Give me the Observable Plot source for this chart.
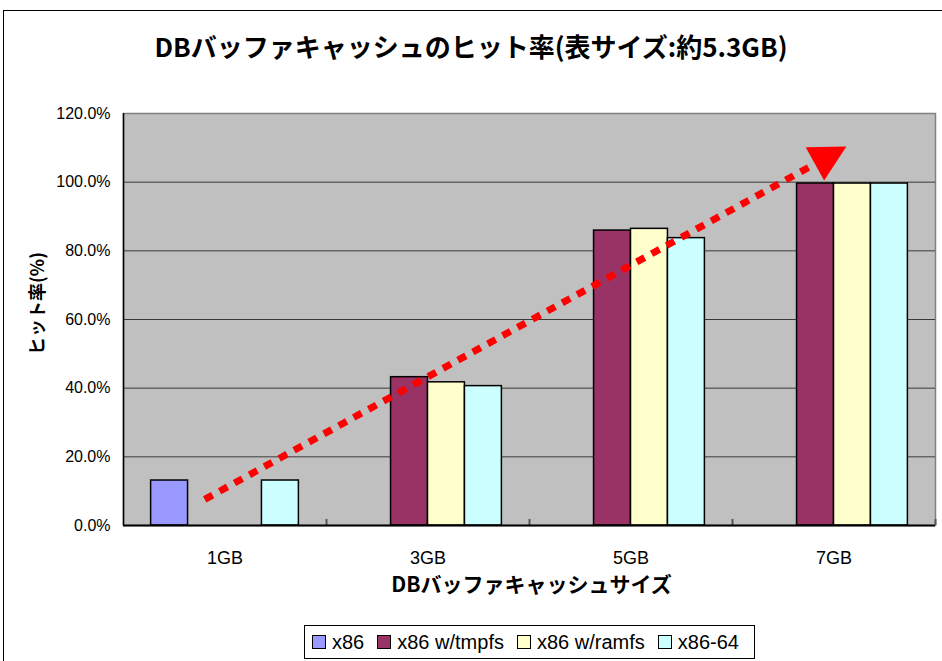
<!DOCTYPE html>
<html>
<head>
<meta charset="utf-8">
<script src="https://cdn.jsdelivr.net/npm/d3@7"></script>
<script src="https://cdn.jsdelivr.net/npm/@observablehq/plot@0.6"></script>
<style>
  html, body { margin: 0; padding: 0; background: #fff; overflow: hidden; }
  #page { position: relative; width: 942px; height: 661px; overflow: hidden; }
  #frame { position: absolute; left: 3px; top: 10px; width: 960px; height: 700px; border: 1.5px solid #000; box-sizing: border-box; }
  #title { position: absolute; left: 0; width: 942px; top: 26px; text-align: center;
           font-family: "Noto Sans CJK JP"; font-weight: bold; font-size: 26px; line-height: 40px; color: #000; }
  #chart { position: absolute; left: 0; top: 80px; }
  #legend { position: absolute; left: 304px; top: 625px; width: 451px; height: 34px; border: 1px solid #000; box-sizing: border-box;
            display: flex; align-items: center; padding-left: 7px; font-family: "Liberation Sans"; font-size: 20px; color: #000; background: #fff; }
  #legend .item { display: flex; align-items: center; margin-right: 13px; white-space: pre; }
  #legend .sw { width: 12px; height: 12px; border: 1px solid #000; margin-right: 6px; }
</style>
</head>
<body>
<div id="page">
  <div id="frame"></div>
  <div id="title"></div>
  <div id="chart"></div>
  <div id="legend"></div>
</div>
<script>
// ---- data ----
const titleText = "DBバッファキャッシュのヒット率(表サイズ:約5.3GB)";
const xTitle = "DBバッファキャッシュサイズ";
const yTitle = "ヒット率(%)";
const categories = ["1GB", "3GB", "5GB", "7GB"];
const seriesNames = ["x86", "x86 w/tmpfs", "x86 w/ramfs", "x86-64"];
const seriesColors = ["#9999FF", "#993366", "#FFFFCC", "#CCFFFF"];
const hitX86   = [13.1, null, null, null];
const hitTmpfs = [null, 43.2, 85.9, 99.6];
const hitRamfs = [null, 41.7, 86.4, 99.6];
const hitX8664 = [13.1, 40.6, 83.7, 99.6];
const yTicks = [0, 20, 40, 60, 80, 100, 120];
// trend arrow (category-index units, percent)
const trendStart = {cat: 0.40, value: 7.6};
const trendHead  = {cat: 3.406, value: 105.3};

// ---- build ----
document.getElementById("title").textContent = titleText;
const seriesValues = [hitX86, hitTmpfs, hitRamfs, hitX8664];
const rows = [];
seriesValues.forEach((vals, j) => vals.forEach((v, i) => {
  if (v != null) rows.push({i, j, category: categories[i], series: seriesNames[j], value: v});
}));
const barW = 0.182;
const pad = (1 - seriesNames.length * barW) / 2;

const chart = Plot.plot({
  width: 942,
  height: 530,
  marginLeft: 123,
  marginRight: 7,
  marginTop: 33,
  marginBottom: 85,
  style: {fontFamily: "Liberation Sans", fontSize: "16px", color: "#000", background: "transparent", overflow: "visible"},
  x: {domain: [0, categories.length]},
  y: {domain: [0, 120]},
  color: {domain: seriesNames, range: seriesColors},
  marks: [
    Plot.frame({fill: "#C0C0C0", stroke: "#808080", strokeWidth: 1.5}),
    Plot.ruleY(yTicks.filter(t => t > 0 && t < 120), {stroke: "#3a3a3a", strokeWidth: 1}),
    Plot.rectY(rows, {
      x1: d => d.i + pad + d.j * barW,
      x2: d => d.i + pad + (d.j + 1) * barW,
      y1: 0, y2: "value",
      fill: "series", stroke: "#000", strokeWidth: 1.5
    }),
    Plot.ruleX(d3.range(1, categories.length + 1), {y1: 0, y2: 0, insetTop: -6, stroke: "#555", strokeWidth: 2}),
    Plot.ruleY([0], {stroke: "#000", strokeWidth: 2}),
    Plot.ruleX([0], {stroke: "#000", strokeWidth: 1.5}),
    Plot.link([{}], {
      x1: () => trendStart.cat, y1: () => trendStart.value,
      x2: () => trendHead.cat, y2: () => trendHead.value,
      stroke: "#FF0000", strokeWidth: 7, strokeDasharray: "9,8"
    }),
    Plot.vector([trendHead], {x: "cat", y: "value", shape: "spike", anchor: "start", length: 36, r: 19, rotate: 61,
      fill: "#FF0000", stroke: "none"}),
    Plot.axisY({ticks: yTicks, tickFormat: d => d.toFixed(1) + "%", tickSize: 0, tickPadding: 13, fontSize: 16, label: null}),
    Plot.axisX({ticks: categories.map((c, i) => i + 0.5), tickFormat: t => categories[Math.floor(t)], tickSize: 0, tickPadding: 26, fontSize: 18, label: null}),
    Plot.text([yTitle], {frameAnchor: "left", textAnchor: "middle", dx: -85, dy: -16, rotate: -90, text: d => d,
      fontFamily: "Noto Sans CJK JP", fontWeight: "bold", fontSize: 18, fill: "#000"}),
    Plot.text([xTitle], {frameAnchor: "bottom", dx: 2, dy: 66, text: d => d,
      fontFamily: "Noto Sans CJK JP", fontWeight: "bold", fontSize: 21, fill: "#000"})
  ]
});
document.getElementById("chart").appendChild(chart);

// legend
const legend = document.getElementById("legend");
seriesNames.forEach((name, j) => {
  const item = document.createElement("div");
  item.className = "item";
  const sw = document.createElement("div");
  sw.className = "sw";
  sw.style.background = seriesColors[j];
  const label = document.createElement("span");
  label.textContent = name;
  item.appendChild(sw);
  item.appendChild(label);
  legend.appendChild(item);
});
</script>
</body>
</html>
